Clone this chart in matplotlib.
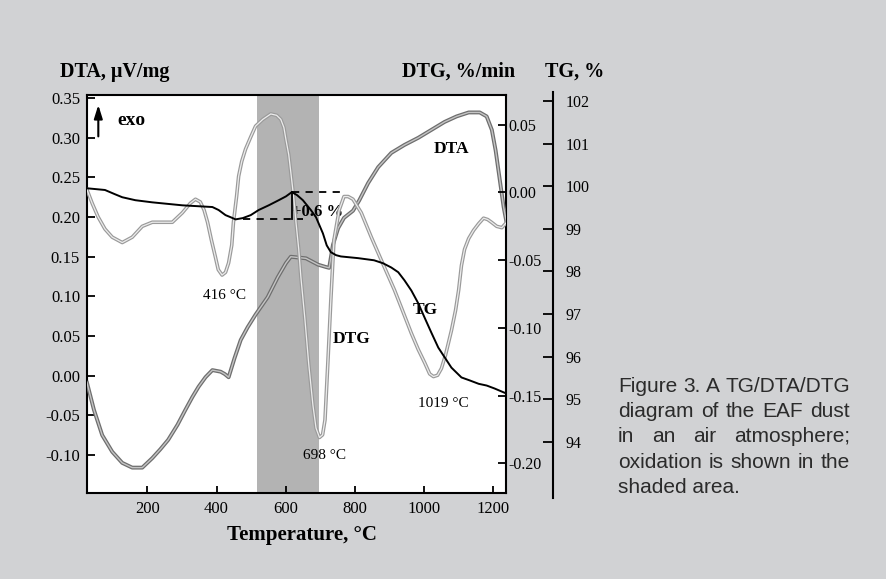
import numpy as np
import matplotlib
matplotlib.use("Agg")
import matplotlib.pyplot as plt
import matplotlib.patheffects as pe

plt.rcParams['axes.unicode_minus'] = False
plt.rcParams['font.family'] = ['Liberation Serif', 'DejaVu Serif']

# DTA curve (uV/mg) vs temperature
dta_t = [25, 45, 69, 98, 127, 156, 185, 214, 237, 260, 287, 310, 330, 348, 368,
         388, 400, 412, 424, 435, 452, 470, 490, 513, 548, 577, 601, 615, 659,
         694, 717, 726, 737, 752, 769, 795, 813, 839, 868, 906, 944, 984, 1022,
         1060, 1095, 1130, 1162, 1182, 1197, 1208, 1220, 1231, 1240]
dta_v = [-0.009, -0.043, -0.075, -0.096, -0.110, -0.116, -0.116, -0.104, -0.093,
         -0.081, -0.062, -0.043, -0.027, -0.014, -0.002, 0.007, 0.006, 0.005,
         0.002, -0.002, 0.022, 0.045, 0.061, 0.077, 0.099, 0.124, 0.142, 0.150,
         0.148, 0.140, 0.137, 0.136, 0.165, 0.186, 0.199, 0.208, 0.221, 0.243,
         0.263, 0.281, 0.291, 0.300, 0.310, 0.320, 0.327, 0.332, 0.332, 0.327,
         0.310, 0.284, 0.247, 0.213, 0.192]

# DTG curve (%/min)
dtg_t = [25, 40, 57, 77, 98, 127, 156, 185, 214, 243, 272, 301, 324, 339, 353,
         364, 374, 385, 397, 405, 416, 426, 435, 444, 449, 458, 464, 473, 484,
         499, 513, 534, 557, 574, 586, 595, 601, 609, 615, 624, 630, 638, 644,
         656, 667, 679, 688, 698, 707, 714, 723, 731, 740, 755, 769, 781, 795,
         819, 848, 877, 915, 935, 964, 984, 1003, 1017, 1028, 1040, 1051, 1063,
         1080, 1092, 1101, 1109, 1118, 1130, 1144, 1159, 1173, 1185, 1196, 1211,
         1226, 1240]
dtg_v = [0.002, -0.008, -0.018, -0.027, -0.033, -0.037, -0.033, -0.025, -0.022,
         -0.022, -0.022, -0.015, -0.008, -0.005, -0.007, -0.013, -0.022, -0.035,
         -0.048, -0.057, -0.061, -0.059, -0.052, -0.039, -0.022, -0.003, 0.012,
         0.023, 0.032, 0.041, 0.049, 0.054, 0.058, 0.057, 0.054, 0.048, 0.039,
         0.028, 0.015, -0.005, -0.022, -0.042, -0.062, -0.094, -0.127, -0.157,
         -0.174, -0.181, -0.179, -0.168, -0.122, -0.079, -0.035, -0.013, -0.003,
         -0.003, -0.005, -0.015, -0.033, -0.050, -0.072, -0.085, -0.104, -0.116,
         -0.126, -0.134, -0.136, -0.135, -0.130, -0.120, -0.102, -0.087, -0.072,
         -0.054, -0.042, -0.034, -0.028, -0.023, -0.019, -0.020, -0.022, -0.025,
         -0.026, -0.022]

# TG curve (%)
tg_t = [25, 77, 106, 127, 165, 214, 301, 388, 406, 426, 441, 455, 476, 499, 522,
        551, 580, 601, 618, 633, 650, 673, 688, 708, 719, 731, 746, 760, 810, 856,
        882, 906, 926, 944, 964, 984, 1002, 1022, 1042, 1063, 1080, 1109, 1133,
        1159, 1182, 1205, 1234]
tg_v = [99.95, 99.91, 99.81, 99.74, 99.67, 99.62, 99.55, 99.51, 99.44, 99.32,
        99.27, 99.22, 99.25, 99.32, 99.44, 99.55, 99.67, 99.76, 99.86, 99.79,
        99.67, 99.44, 99.27, 98.89, 98.61, 98.45, 98.38, 98.35, 98.31, 98.26,
        98.19, 98.09, 97.98, 97.79, 97.55, 97.25, 96.92, 96.56, 96.21, 95.95,
        95.74, 95.51, 95.44, 95.36, 95.32, 95.25, 95.15]

# oxidation step (+0.6 %)
step_t = 618
step_low = [478, 650]
step_high = [618, 775]
tg_low, tg_high = 99.22, 99.86

shade = [517, 697]

x_ticks = [200, 400, 600, 800, 1000, 1200]
dta_ticks = [-0.10, -0.05, 0.00, 0.05, 0.10, 0.15, 0.20, 0.25, 0.30, 0.35]
dtg_ticks = [-0.20, -0.15, -0.10, -0.05, 0.00, 0.05]
tg_ticks = [94, 95, 96, 97, 98, 99, 100, 101, 102]

caption = ["Figure 3. A TG/DTA/DTG", "diagram of the EAF dust",
           "in an air atmosphere;", "oxidation is shown in the", "shaded area."]

W, H = 886, 579
bg = '#d1d2d4'
fig = plt.figure(figsize=(W / 100, H / 100), dpi=100, facecolor=bg)

ax = fig.add_axes([87 / W, 1 - 493 / H, 419 / W, 398 / H])
ax.set_facecolor('white')
ax.set_xlim(25, 1238)
ax.set_ylim(-0.148, 0.354)
ax.axvspan(shade[0], shade[1], color='#b3b3b3', lw=0, zorder=0)

ax.plot(dta_t, dta_v, color='#c4c4c4', lw=1.0, zorder=3,
        path_effects=[pe.Stroke(linewidth=2.8, foreground='#6e6e6e'), pe.Normal()])

for s in ax.spines.values():
    s.set_linewidth(1.5)
ax.set_xticks(x_ticks)
ax.set_yticks(dta_ticks)
ax.yaxis.set_major_formatter(matplotlib.ticker.FormatStrFormatter('%.2f'))
ax.tick_params(direction='in', length=6, width=1.3, labelsize=12, pad=5)
ax.tick_params(axis='x', length=5, pad=6)

ax2 = ax.twinx()
ax2.set_ylim(-0.222, 0.072)
ax2.plot(dtg_t, dtg_v, color='#ececec', lw=0.9, zorder=3,
         path_effects=[pe.Stroke(linewidth=2.6, foreground='#9a9a9a'), pe.Normal()])
ax2.set_yticks(dtg_ticks)
ax2.yaxis.set_major_formatter(matplotlib.ticker.FormatStrFormatter('%.2f'))
ax2.tick_params(direction='in', length=6, width=1.3, labelsize=11.5, pad=1.5)
for s in ax2.spines.values():
    s.set_visible(False)

# TG axis: own axes, slightly taller, spine moved to the right
ax3 = fig.add_axes([87 / W, 1 - 498 / H, 419 / W, 406 / H], sharex=ax)
ax3.patch.set_visible(False)
ax3.set_ylim(92.68, 102.21)
ax3.plot(tg_t, tg_v, color='black', lw=1.4, zorder=4)
ax3.plot(step_low, [tg_low, tg_low], color='black', lw=1.3, ls=(0, (4, 3.5)))
ax3.plot(step_high, [tg_high, tg_high], color='black', lw=1.3, ls=(0, (4, 3.5)))
ax3.plot([step_t, step_t], [tg_low, tg_high], color='black', lw=1.3)
for k in ['left', 'top', 'bottom']:
    ax3.spines[k].set_visible(False)
ax3.spines['right'].set_position(('axes', (553 - 87) / 419))
ax3.spines['right'].set_linewidth(1.5)
ax3.yaxis.tick_right()
ax3.set_yticks(tg_ticks)
ax3.tick_params(axis='y', direction='in', length=7, width=1.3, labelsize=11.5, pad=9)
ax3.tick_params(axis='x', bottom=False, labelbottom=False)

# axis titles
fig.text(60 / W, 1 - 72 / H, 'DTA, \u03bcV/mg', fontsize=14.5, fontweight='bold', va='center')
fig.text(515 / W, 1 - 72 / H, 'DTG, %/min', fontsize=14.5, fontweight='bold', va='center', ha='right')
fig.text(545 / W, 1 - 72 / H, 'TG, %', fontsize=14.5, fontweight='bold', va='center')
fig.text(302 / W, 1 - 535 / H, 'Temperature, \u00b0C', fontsize=15, fontweight='bold',
         va='center', ha='center')

# in-plot labels (axes fraction)
ax.annotate('', xy=(0.027, 0.982), xytext=(0.027, 0.889), xycoords='axes fraction',
            arrowprops=dict(arrowstyle='-|>,head_width=0.25,head_length=0.8',
                            color='black', lw=1.5))
ax.text(0.105, 0.935, 'exo', transform=ax.transAxes, fontsize=14, fontweight='bold',
        ha='center', va='center')
ax.text(0.871, 0.864, 'DTA', transform=ax.transAxes, fontsize=12.5, fontweight='bold',
        ha='center', va='center')
ax.text(0.632, 0.387, 'DTG', transform=ax.transAxes, fontsize=12.5, fontweight='bold',
        ha='center', va='center')
ax.text(0.807, 0.460, 'TG', transform=ax.transAxes, fontsize=12.5, fontweight='bold',
        ha='center', va='center', zorder=5)
ax.text(0.329, 0.497, '416 \u00b0C', transform=ax.transAxes, fontsize=11, ha='center', va='center')
ax.text(0.568, 0.093, '698 \u00b0C', transform=ax.transAxes, fontsize=11, ha='center', va='center')
ax.text(0.850, 0.226, '1019 \u00b0C', transform=ax.transAxes, fontsize=11, ha='center', va='center')
ax.text(0.489, 0.706, '+0.6 %', transform=ax.transAxes, fontsize=12, fontweight='bold',
        ha='left', va='center', zorder=5)

# justified caption
renderer = fig.canvas.get_renderer()
x0, x1 = 618, 850
for i, line in enumerate(caption):
    yb = 1 - (392 + 25.2 * i) / H
    kw = dict(fontsize=15, family='Liberation Sans', color='#2b2b2b', va='baseline')
    if i == len(caption) - 1:
        fig.text(x0 / W, yb, line, **kw)
        continue
    words = line.split()
    texts = [fig.text(0, yb, w, **kw) for w in words]
    widths = [t.get_window_extent(renderer).width for t in texts]
    gap = (x1 - x0 - sum(widths)) / (len(words) - 1)
    x = x0
    for t, w in zip(texts, widths):
        t.set_x(x / W)
        x += w + gap

fig.savefig('out.png', dpi=100, facecolor=bg)
